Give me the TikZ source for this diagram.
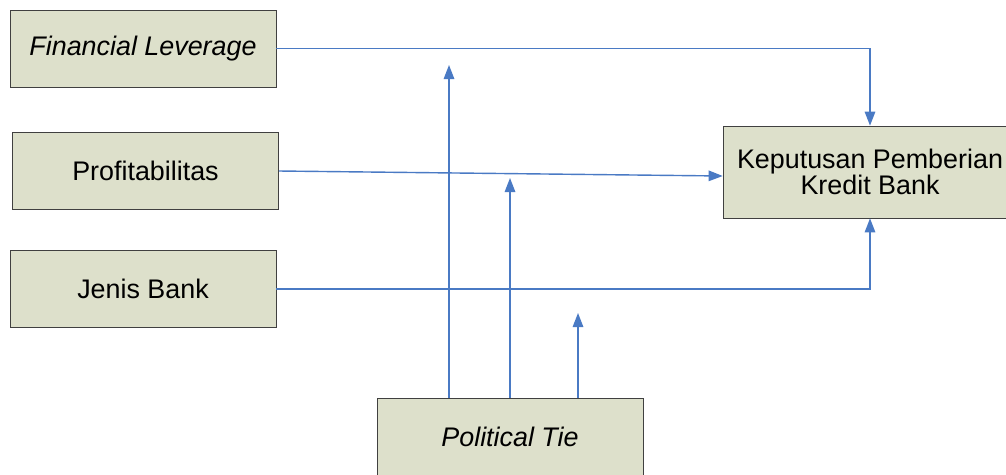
\documentclass[tikz,border=0pt]{standalone}
\usepackage{fontspec}
\setmainfont{Liberation Sans}
\usepackage{xcolor}
\usetikzlibrary{arrows.meta}
\definecolor{boxfill}{RGB}{221,224,203}
\definecolor{linkblue}{RGB}{74,122,196}

\begin{document}
\begin{tikzpicture}[x=0.02cm,y=-0.02cm,
    varbox/.style={draw=black!75,fill=boxfill,minimum width=5.32cm,minimum height=1.54cm,
      inner sep=0pt,align=center,font=\fontsize{15.3}{14.8}\selectfont},
    link/.style={linkblue,line width=0.8pt,-{Triangle[length=8pt,width=6pt]}}]
        \useasboundingbox (0,0) rectangle (1006,474);
        \clip (0,0) rectangle (1006,474);

        % Draw the variable boxes
        \node[varbox] (lev) at (143,48.5) {\textit{Financial Leverage}};
        \node[varbox] (prof) at (145.5,171) {Profitabilitas};
        \node[varbox] (jb) at (143,289) {Jenis Bank};
        \node[varbox,minimum width=5.88cm,minimum height=1.84cm] (kep) at (870,172) {Keputusan Pemberian\\Kredit Bank};
        \node[varbox] (tie) at (510,436.5) {\textit{Political Tie}};

        % Draw direct links
        \draw[link] (lev.east) -| (kep.north);
        \draw[link] (prof.east) -- ([yshift=-0.08cm]kep.west);
        \draw[link] (jb.east) -| (kep.south);

        % Draw moderating links
        \coordinate (modA) at (449,65);
        \coordinate (modB) at (510,178);
        \coordinate (modC) at (578,313);
        \draw[link] (tie.north -| modA) -- (modA);
        \draw[link] (tie.north) -- (modB);
        \draw[link] (tie.north -| modC) -- (modC);
    \end{tikzpicture}
\end{document}
